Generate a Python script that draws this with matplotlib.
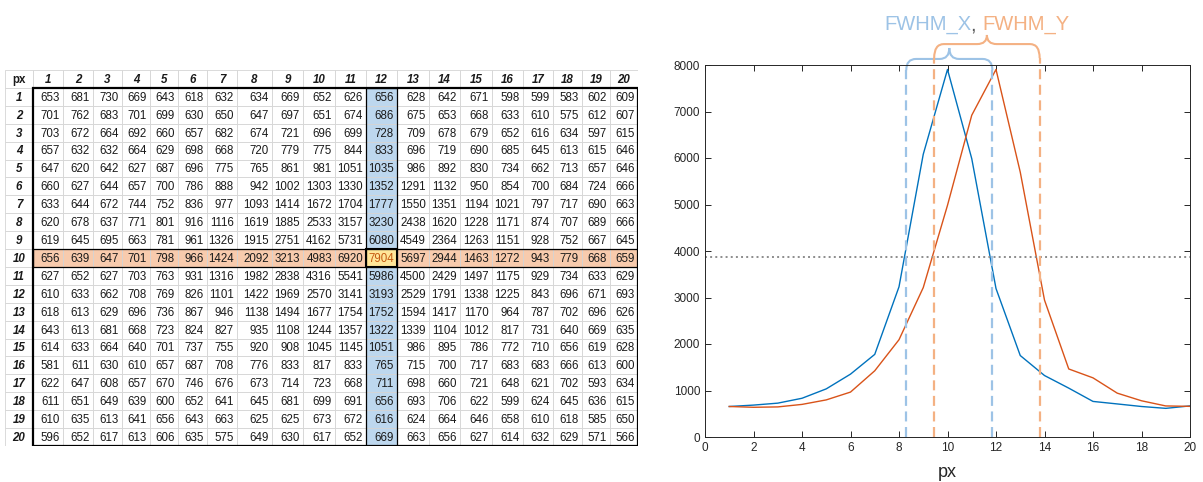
import matplotlib
matplotlib.use("Agg")
import matplotlib.pyplot as plt
from matplotlib.patches import Rectangle, PathPatch
from matplotlib.path import Path

plt.rcParams["font.family"] = ["Liberation Sans", "DejaVu Sans"]

# pixel intensities, rows 1..20 x columns 1..20
px = list(range(1, 21))
counts = [
    [653, 681, 730, 669, 643, 618, 632, 634, 669, 652, 626, 656, 628, 642, 671, 598, 599, 583, 602, 609],
    [701, 762, 683, 701, 699, 630, 650, 647, 697, 651, 674, 686, 675, 653, 668, 633, 610, 575, 612, 607],
    [703, 672, 664, 692, 660, 657, 682, 674, 721, 696, 699, 728, 709, 678, 679, 652, 616, 634, 597, 615],
    [657, 632, 632, 664, 629, 698, 668, 720, 779, 775, 844, 833, 696, 719, 690, 685, 645, 613, 615, 646],
    [647, 620, 642, 627, 687, 696, 775, 765, 861, 981, 1051, 1035, 986, 892, 830, 734, 662, 713, 657, 646],
    [660, 627, 644, 657, 700, 786, 888, 942, 1002, 1303, 1330, 1352, 1291, 1132, 950, 854, 700, 684, 724, 666],
    [633, 644, 672, 744, 752, 836, 977, 1093, 1414, 1672, 1704, 1777, 1550, 1351, 1194, 1021, 797, 717, 690, 663],
    [620, 678, 637, 771, 801, 916, 1116, 1619, 1885, 2533, 3157, 3230, 2438, 1620, 1228, 1171, 874, 707, 689, 666],
    [619, 645, 695, 663, 781, 961, 1326, 1915, 2751, 4162, 5731, 6080, 4549, 2364, 1263, 1151, 928, 752, 667, 645],
    [656, 639, 647, 701, 798, 966, 1424, 2092, 3213, 4983, 6920, 7904, 5697, 2944, 1463, 1272, 943, 779, 668, 659],
    [627, 652, 627, 703, 763, 931, 1316, 1982, 2838, 4316, 5541, 5986, 4500, 2429, 1497, 1175, 929, 734, 633, 629],
    [610, 633, 662, 708, 769, 826, 1101, 1422, 1969, 2570, 3141, 3193, 2529, 1791, 1338, 1225, 843, 696, 671, 693],
    [618, 613, 629, 696, 736, 867, 946, 1138, 1494, 1677, 1754, 1752, 1594, 1417, 1170, 964, 787, 702, 696, 626],
    [643, 613, 681, 668, 723, 824, 827, 935, 1108, 1244, 1357, 1322, 1339, 1104, 1012, 817, 731, 640, 669, 635],
    [614, 633, 664, 640, 701, 737, 755, 920, 908, 1045, 1145, 1051, 986, 895, 786, 772, 710, 656, 619, 628],
    [581, 611, 630, 610, 657, 687, 708, 776, 833, 817, 833, 765, 715, 700, 717, 683, 683, 666, 613, 600],
    [622, 647, 608, 657, 670, 746, 676, 673, 714, 723, 668, 711, 698, 660, 721, 648, 621, 702, 593, 634],
    [611, 651, 649, 639, 600, 652, 641, 645, 681, 699, 691, 656, 693, 706, 622, 599, 624, 645, 636, 615],
    [610, 635, 613, 641, 656, 643, 663, 625, 625, 673, 672, 616, 624, 664, 646, 658, 610, 618, 585, 650],
    [596, 652, 617, 613, 606, 635, 575, 649, 630, 617, 652, 669, 663, 656, 627, 614, 632, 629, 571, 566],
]
peak_row = 10
peak_col = 12
half_max = 3870
fwhm_x = [8.3, 11.85]
fwhm_y = [9.45, 13.8]

# colours
blue, orange = "#0072BD", "#D95319"
light_blue, light_orange = "#9DC3E6", "#F4B183"
fill_blue, fill_orange, fill_peak = "#BDD7EE", "#F8CBAD", "#FFE699"

W, H = 1203, 482
fig = plt.figure(figsize=(W / 100, H / 100), dpi=100)

# ---- table (spreadsheet look) ----
col_widths = [28, 30, 30, 29, 28, 28, 29, 30, 35, 31, 32, 31, 31, 32, 31, 32, 31, 30, 29, 28, 28]
edges = [0]
for w in col_widths:
    edges.append(edges[-1] + w)

tab = fig.add_axes([5 / W, (H - 446) / H, edges[-1] / W, 376 / H])
tab.set_xlim(0, edges[-1])
tab.set_ylim(21, 0)
tab.axis("off")

for r in range(21):
    for c in range(21):
        face = "white"
        if r >= 1 and c >= 1:
            if r == peak_row and c == peak_col:
                face = fill_peak
            elif r == peak_row:
                face = fill_orange
            elif c == peak_col:
                face = fill_blue
        tab.add_patch(Rectangle((edges[c], r), col_widths[c], 1, facecolor=face,
                                edgecolor="#D4D4D4", lw=0.6))
        if r == 0 and c == 0:
            tab.text(edges[1] / 2, 0.55, "px", ha="center", va="center",
                     fontsize=8.3, fontweight="bold", color="#1a1a1a")
        elif r == 0:
            tab.text(edges[c] + col_widths[c] / 2, 0.55, str(px[c - 1]), ha="center",
                     va="center", fontsize=8.3, fontweight="bold", style="italic", color="#1a1a1a")
        elif c == 0:
            tab.text(edges[1] / 2, r + 0.55, str(px[r - 1]), ha="center", va="center",
                     fontsize=8.3, fontweight="bold", style="italic", color="#1a1a1a")
        else:
            col = "#C55A11" if (r == peak_row and c == peak_col) else "#1a1a1a"
            tab.text(edges[c + 1] - 3, r + 0.55, str(counts[r - 1][c - 1]), ha="right",
                     va="center", fontsize=8.3, color=col)

span = edges[-1] - edges[1]
tab.add_patch(Rectangle((edges[peak_col], 1), col_widths[peak_col], 20, fill=False, ec="black", lw=0.9))
tab.add_patch(Rectangle((edges[1], peak_row), span, 1, fill=False, ec="black", lw=0.9))
tab.add_patch(Rectangle((edges[peak_col], peak_row), col_widths[peak_col], 1, fill=False, ec="black", lw=1.5))
tab.add_patch(Rectangle((edges[1], 1), span, 20, fill=False, ec="black", lw=1.6))

# ---- profiles ----
x_profile = [row[peak_col - 1] for row in counts]
y_profile = counts[peak_row - 1]

ax = fig.add_axes([705 / W, (H - 437) / H, 485 / W, 372 / H])
ax.plot(px, x_profile, color=blue, lw=1.0)
ax.plot(px, y_profile, color=orange, lw=1.0)
ax.axhline(half_max, color="#8c8c8c", ls=":", lw=1.4)

for x in fwhm_x:
    ax.plot([x, x], [0, 7890], color=light_blue, ls="--", dashes=(4.5, 2.5), lw=1.6, clip_on=False)
for x in fwhm_y:
    ax.plot([x, x], [0, 8150], color=light_orange, ls="--", dashes=(4.5, 2.5), lw=1.6, clip_on=False)


def brace(x0, x1, y_end, y_bar, y_tip, r, color):
    xc = (x0 + x1) / 2
    verts = [(x0, y_end), (x0, y_bar), (x0 + r, y_bar), (xc - r, y_bar), (xc, y_bar), (xc, y_tip),
             (xc, y_bar), (xc + r, y_bar), (x1 - r, y_bar), (x1, y_bar), (x1, y_end)]
    codes = [Path.MOVETO, Path.CURVE3, Path.CURVE3, Path.LINETO, Path.CURVE3, Path.CURVE3,
             Path.CURVE3, Path.CURVE3, Path.LINETO, Path.CURVE3, Path.CURVE3]
    ax.add_patch(PathPatch(Path(verts, codes), fill=False, ec=color, lw=1.5, clip_on=False))


brace(fwhm_x[0], fwhm_x[1], 7890, 8130, 8365, 0.4, light_blue)
brace(fwhm_y[0], fwhm_y[1], 8150, 8450, 8645, 0.4, light_orange)

ax.set_xlim(0, 20)
ax.set_ylim(0, 8000)
ax.set_xticks(range(0, 21, 2))
ax.set_yticks(range(0, 8001, 1000))
ax.tick_params(direction="in", top=True, right=True, length=4, width=0.7,
               labelsize=8.5, colors="#262626")
for s in ax.spines.values():
    s.set_color("#262626")
    s.set_linewidth(0.7)
ax.set_xlabel("px", fontsize=13, color="#262626", labelpad=7)

# coloured title pieces
t1 = fig.text(884 / W, (H - 30) / H, "FWHM_X", color=light_blue, fontsize=14.5, va="baseline")
t2 = ax.annotate(", ", xy=(1, 0), xycoords=t1, va="bottom", fontsize=14.5, color="#595959",
                 annotation_clip=False)
t3 = ax.annotate("FWHM_Y", xy=(1, 0), xycoords=t2, va="bottom", fontsize=14.5, color=light_orange,
                 annotation_clip=False)

plt.savefig("out.png", dpi=100)
